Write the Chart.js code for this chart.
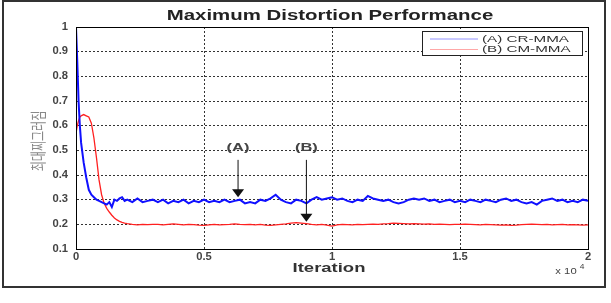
<!DOCTYPE html>
<html>
<head>
<meta charset="utf-8">
<script src="https://cdn.jsdelivr.net/npm/chart.js@4"></script>
<style>
  html, body { margin: 0; padding: 0; background: #fff; }
  #wrap { width: 611px; height: 303px; }
</style>
</head>
<body>
<div id="wrap"><canvas id="distChart" width="611" height="303"></canvas></div>
<script>
// iteration, in units of 10^4
const iterX = [
  0, 0.005, 0.01, 0.015, 0.02, 0.03, 0.04, 0.05, 0.06, 0.07,
  0.08, 0.09, 0.10, 0.11, 0.12, 0.13, 0.14, 0.15, 0.16, 0.17,
  0.18, 0.19, 0.20, 0.22, 0.24, 0.26, 0.28, 0.30,
  0.32, 0.34, 0.36, 0.38, 0.40, 0.42, 0.44, 0.46, 0.48, 0.50,
  0.52, 0.54, 0.56, 0.58, 0.60, 0.62, 0.64, 0.66, 0.68, 0.70,
  0.72, 0.74, 0.76, 0.78, 0.80, 0.82, 0.84, 0.86, 0.88, 0.90,
  0.92, 0.94, 0.96, 0.98, 1.00, 1.02, 1.04, 1.06, 1.08, 1.10,
  1.12, 1.14, 1.16, 1.18, 1.20, 1.22, 1.24, 1.26, 1.28, 1.30,
  1.32, 1.34, 1.36, 1.38, 1.40, 1.42, 1.44, 1.46, 1.48, 1.50,
  1.52, 1.54, 1.56, 1.58, 1.60, 1.62, 1.64, 1.66, 1.68, 1.70,
  1.72, 1.74, 1.76, 1.78, 1.80, 1.82, 1.84, 1.86, 1.88, 1.90,
  1.92, 1.94, 1.96, 1.98, 2.00
];

// (A) CR-MMA
const crMma = [
  1.0, 0.86, 0.70, 0.60, 0.53, 0.45, 0.39, 0.34, 0.32, 0.31,
  0.30, 0.295, 0.29, 0.285, 0.28, 0.29, 0.27, 0.30, 0.295, 0.305,
  0.31, 0.295, 0.30, 0.29, 0.305, 0.29, 0.295, 0.30,
  0.29, 0.30, 0.285, 0.295, 0.29, 0.30, 0.285, 0.295, 0.29, 0.30,
  0.29, 0.295, 0.29, 0.30, 0.29, 0.295, 0.30, 0.285, 0.29, 0.285,
  0.30, 0.295, 0.305, 0.32, 0.30, 0.29, 0.285, 0.30, 0.295, 0.285,
  0.30, 0.31, 0.30, 0.305, 0.31, 0.30, 0.305, 0.295, 0.29, 0.30,
  0.295, 0.315, 0.305, 0.30, 0.295, 0.30, 0.29, 0.285, 0.29, 0.30,
  0.305, 0.30, 0.305, 0.295, 0.30, 0.29, 0.295, 0.30, 0.29, 0.295,
  0.29, 0.30, 0.295, 0.29, 0.30, 0.295, 0.29, 0.30, 0.305, 0.295,
  0.30, 0.29, 0.285, 0.29, 0.28, 0.295, 0.30, 0.305, 0.295, 0.30,
  0.29, 0.295, 0.29, 0.30, 0.295
];

// (B) CM-MMA
const cmMma = [
  0.57, 0.60, 0.62, 0.635, 0.64, 0.645, 0.64, 0.635, 0.61, 0.55,
  0.47, 0.38, 0.32, 0.285, 0.265, 0.25, 0.237, 0.226, 0.218, 0.212,
  0.208, 0.205, 0.203, 0.20, 0.198, 0.20, 0.199, 0.20,
  0.20, 0.198, 0.20, 0.202, 0.20, 0.198, 0.20, 0.199, 0.197, 0.196,
  0.198, 0.20, 0.198, 0.199, 0.20, 0.202, 0.20, 0.199, 0.20, 0.198,
  0.20, 0.197, 0.196, 0.198, 0.20, 0.202, 0.205, 0.207, 0.205, 0.203,
  0.20, 0.198, 0.20, 0.197, 0.193, 0.198, 0.20, 0.199, 0.198, 0.20,
  0.199, 0.20, 0.201, 0.20, 0.202, 0.203, 0.205, 0.204, 0.203, 0.202,
  0.203, 0.202, 0.201, 0.202, 0.20, 0.201, 0.20, 0.199, 0.20, 0.20,
  0.201, 0.20, 0.199, 0.198, 0.20, 0.199, 0.198, 0.197, 0.198, 0.196,
  0.197, 0.199, 0.20, 0.201, 0.20, 0.199, 0.20, 0.198, 0.199, 0.20,
  0.198, 0.199, 0.198, 0.197, 0.198
];

const xTicks = [0, 0.5, 1, 1.5, 2];
const yTicks = [0.1, 0.2, 0.3, 0.4, 0.5, 0.6, 0.7, 0.8, 0.9, 1];
const seriesNames = ['(A) CR-MMA', '(B) CM-MMA'];

// arrow annotations (data coords)
const noteLabels = ['(A)', '(B)'];
const noteX = [0.633, 0.9];
const noteTextY = [0.51, 0.51];
const noteTipY = [0.31, 0.21];

const FONT = '"Liberation Sans", Arial, sans-serif';

function wideText(ctx, text, px, py, font, sx, align, color) {
  ctx.save();
  ctx.translate(px, py);
  ctx.scale(sx, 1);
  ctx.font = font;
  ctx.textAlign = align;
  ctx.textBaseline = 'middle';
  ctx.fillStyle = color;
  ctx.fillText(text, 0, 0);
  ctx.restore();
}

const figurePlugin = {
  id: 'figure',
  beforeDraw(chart) {
    const ctx = chart.ctx;
    ctx.save();
    ctx.fillStyle = '#fff';
    ctx.fillRect(0, 0, chart.width, chart.height);
    ctx.restore();
  },
  afterDraw(chart) {
    const { ctx, chartArea: a, scales: { x, y } } = chart;

    // axes box
    ctx.save();
    ctx.strokeStyle = '#000';
    ctx.lineWidth = 1;
    ctx.strokeRect(Math.round(a.left) + 0.5, Math.round(a.top) + 0.5,
      Math.round(a.right - a.left), Math.round(a.bottom - a.top));
    ctx.restore();

    // tick labels
    yTicks.forEach(v => {
      wideText(ctx, String(v), a.left - 8, y.getPixelForValue(v),
        'bold 10px ' + FONT, 1.12, 'right', '#444');
    });
    xTicks.forEach(v => {
      wideText(ctx, String(v), x.getPixelForValue(v), a.bottom + 8,
        'bold 10px ' + FONT, 1.12, 'center', '#444');
    });

    // title and axis labels
    wideText(ctx, 'Maximum Distortion Performance', 330, 16,
      'bold 15px ' + FONT, 1.36, 'center', '#222');
    wideText(ctx, 'Iteration', 329, 268, 'bold 13px ' + FONT, 1.42, 'center', '#333');
    wideText(ctx, 'x 10', 566, 272, '9px ' + FONT, 1.25, 'center', '#444');
    wideText(ctx, '4', 582, 267, '7px ' + FONT, 1.2, 'center', '#444');

    ctx.save();
    ctx.translate(38, 141);
    ctx.rotate(-Math.PI / 2);
    ctx.scale(1, 1.45);
    ctx.font = '11px "Noto Sans CJK KR", sans-serif';
    ctx.textAlign = 'center';
    ctx.textBaseline = 'middle';
    ctx.fillStyle = '#888';
    ctx.fillText('최대찌그러짐', 0, 0);
    ctx.restore();

    // legend
    const lx = 422, ly = 31, lw = 160, lh = 24;
    ctx.save();
    ctx.fillStyle = '#fff';
    ctx.fillRect(lx, ly, lw, lh);
    ctx.strokeStyle = '#222';
    ctx.lineWidth = 1;
    ctx.strokeRect(lx + 0.5, ly + 0.5, lw, lh);
    const legendColors = ['rgba(60,60,255,0.55)', 'rgba(255,60,60,0.45)'];
    seriesNames.forEach((name, i) => {
      const yy = ly + 8 + i * 10.5;
      ctx.strokeStyle = legendColors[i];
      ctx.lineWidth = 1.2;
      ctx.beginPath();
      ctx.moveTo(lx + 8, yy);
      ctx.lineTo(lx + 56, yy);
      ctx.stroke();
      wideText(ctx, name, lx + 60, yy, '9.5px ' + FONT, 1.6, 'left', '#333');
    });
    ctx.restore();

    // arrow annotations
    noteLabels.forEach((lab, i) => {
      const px = x.getPixelForValue(noteX[i]);
      const ty = y.getPixelForValue(noteTextY[i]);
      const tip = y.getPixelForValue(noteTipY[i]);
      wideText(ctx, lab, px, ty, 'bold 11px ' + FONT, 1.5, 'center', '#444');
      ctx.save();
      ctx.strokeStyle = '#111';
      ctx.fillStyle = '#111';
      ctx.lineWidth = 1;
      ctx.beginPath();
      ctx.moveTo(px, ty + 12);
      ctx.lineTo(px, tip - 6);
      ctx.stroke();
      ctx.beginPath();
      ctx.moveTo(px - 6, tip - 8);
      ctx.lineTo(px + 6, tip - 8);
      ctx.lineTo(px, tip);
      ctx.closePath();
      ctx.fill();
      ctx.restore();
    });

    // outer frame
    ctx.save();
    ctx.strokeStyle = '#333';
    ctx.lineWidth = 2;
    ctx.strokeRect(3, 1, 602, 286);
    ctx.restore();
  }
};

const ctx = document.getElementById('distChart').getContext('2d');

const chart = new Chart(ctx, {
  type: 'line',
  data: {
    datasets: [
      {
        label: seriesNames[0],
        data: iterX.map((v, i) => ({ x: v, y: crMma[i] })),
        borderColor: '#1010ff',
        borderWidth: 2,
        pointRadius: 0,
        tension: 0
      },
      {
        label: seriesNames[1],
        data: iterX.map((v, i) => ({ x: v, y: cmMma[i] })),
        borderColor: '#ff2020',
        borderWidth: 1.3,
        pointRadius: 0,
        tension: 0
      }
    ]
  },
  options: {
    responsive: false,
    animation: false,
    layout: { padding: { left: 6, right: 23, top: 27, bottom: 24 } },
    plugins: {
      legend: { display: false },
      title: { display: false },
      tooltip: { enabled: false }
    },
    scales: {
      x: {
        type: 'linear',
        min: 0,
        max: 2,
        afterFit: s => { s.height = 30; },
        afterBuildTicks: s => { s.ticks = xTicks.map(v => ({ value: v })); },
        ticks: { display: false },
        grid: { color: '#333', lineWidth: 1, drawTicks: false },
        border: { display: true, color: '#000', dash: [2, 2] }
      },
      y: {
        min: 0.1,
        max: 1,
        afterFit: s => { s.width = 70; },
        afterBuildTicks: s => { s.ticks = yTicks.map(v => ({ value: v })); },
        ticks: { display: false },
        grid: { color: '#333', lineWidth: 1, drawTicks: false },
        border: { display: true, color: '#000', dash: [2, 2] }
      }
    }
  },
  plugins: [figurePlugin]
});
</script>
</body>
</html>
